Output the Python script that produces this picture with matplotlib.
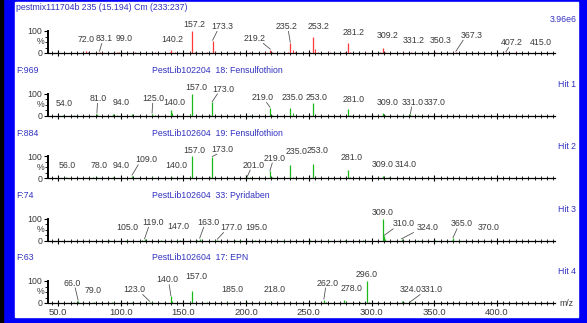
"""Library search result: sample spectrum and four library hits."""
import matplotlib
matplotlib.use("Agg")
import matplotlib.pyplot as plt
from matplotlib.patches import Rectangle

plt.rcParams["font.family"] = ["Liberation Sans", "DejaVu Sans"]

# ---- data -------------------------------------------------------------
SAMPLE_TITLE = "pestmix111704b 235 (15.194) Cm (233:237)"
SAMPLE_SCALE = "3.96e6"

HIT_FIT = ["F:969", "F:884", "F:74", "F:63"]
HIT_NAME = ["PestLib102204  18: Fensulfothion", "PestLib102604  19: Fensulfothion",
            "PestLib102604  33: Pyridaben", "PestLib102604  17: EPN"]
HIT_TAG = ["Hit 1", "Hit 2", "Hit 3", "Hit 4"]

# sample spectrum (labelled peaks, % of base peak)
S_MZ = [72.0, 83.1, 99.0, 140.2, 157.2, 173.3, 219.2, 235.2, 253.2, 281.2, 309.2, 331.2, 350.3, 367.3, 407.2, 415.0]
S_INT = [10, 5, 5, 12, 100, 55, 15, 45, 75, 45, 25, 5, 3, 5, 3, 3]
S_MINOR_MZ = [74, 77, 85, 91, 97, 105, 111, 121, 127, 139, 143, 155, 159, 169, 175, 183, 191, 197, 203, 207,
              215, 221, 233, 237, 239, 251, 255, 257, 265, 267, 279, 283, 293, 295, 307, 311, 325, 339,
              351, 365, 379, 393, 405]
S_MINOR_INT = [3, 2, 3, 2, 3, 2, 3, 2, 3, 4, 3, 4, 6, 3, 5, 2, 3, 2, 3, 2,
               3, 4, 5, 15, 4, 6, 20, 5, 2, 3, 4, 5, 2, 3, 4, 6, 3, 2,
               2, 3, 2, 2, 2]

# hit 1
H1_MZ = [54.0, 81.0, 94.0, 125.0, 140.0, 157.0, 173.0, 219.0, 235.0, 253.0, 281.0, 309.0, 331.0, 337.0]
H1_INT = [3, 8, 8, 8, 25, 100, 60, 35, 35, 55, 30, 10, 5, 3]
H1_MINOR_MZ = [63, 97, 109, 127, 141, 155, 171, 203, 221, 237, 283, 311, 325]
H1_MINOR_INT = [2, 4, 5, 3, 10, 6, 4, 3, 4, 12, 4, 3, 3]

# hit 2
H2_MZ = [56.0, 78.0, 94.0, 109.0, 140.0, 157.0, 173.0, 201.0, 219.0, 235.0, 253.0, 281.0, 309.0, 314.0]
H2_INT = [3, 3, 3, 10, 5, 100, 95, 5, 30, 60, 65, 35, 8, 3]
H2_MINOR_MZ = [63, 81, 97, 125, 141, 155, 171, 203, 221, 237, 255, 283, 311]
H2_MINOR_INT = [2, 3, 2, 3, 3, 5, 4, 3, 3, 5, 6, 4, 2]

# hit 3
H3_MZ = [105.0, 119.0, 147.0, 163.0, 177.0, 195.0, 309.0, 310.0, 324.0, 365.0, 370.0]
H3_INT = [3, 5, 3, 8, 3, 3, 100, 20, 5, 10, 3]
H3_MINOR_MZ = [91, 117, 132, 145, 161, 175, 191, 207, 230, 251, 265, 279, 293, 311, 337, 351, 364]
H3_MINOR_INT = [2, 2, 2, 3, 2, 2, 2, 2, 2, 2, 2, 2, 3, 6, 2, 3, 3]

# hit 4
H4_MZ = [66.0, 79.0, 123.0, 140.0, 157.0, 185.0, 218.0, 262.0, 278.0, 296.0, 324.0, 331.0]
H4_INT = [10, 5, 5, 30, 55, 5, 3, 15, 15, 100, 8, 3]
H4_MINOR_MZ = [63, 77, 93, 109, 125, 141, 155, 169, 201, 233, 248, 264, 280, 291, 298, 311, 326]
H4_MINOR_INT = [3, 2, 4, 3, 3, 8, 6, 3, 3, 2, 2, 3, 5, 3, 6, 2, 4]

# ---- label layout (text centre in m/z, text bottom in %, leader line) ----
S_LAB_X = [72, 87, 103, 141, 159, 181, 207, 232, 258, 286, 313, 334, 355, 380, 412, 435]
S_LAB_Y = [40, 45, 45, 40, 108, 100, 45, 100, 100, 72, 60, 38, 38, 60, 27, 27]
S_LEAD = [0, 1, 0, 0, 0, 1, 1, 1, 0, 0, 0, 0, 0, 1, 1, 0]

H1_LAB_X = [55, 82, 100, 126, 143, 160, 182, 213, 237, 256, 286, 313, 333, 350]
H1_LAB_Y = [35, 57, 38, 57, 40, 108, 100, 61, 61, 61, 50, 40, 40, 40]
H1_LEAD = [0, 1, 0, 1, 0, 0, 1, 1, 0, 0, 0, 0, 1, 0]

H2_LAB_X = [57, 83, 100, 120, 144, 159, 181, 206, 223, 240, 257, 284, 309, 327]
H2_LAB_Y = [38, 38, 38, 62, 38, 106, 110, 38, 70, 100, 105, 72, 40, 40]
H2_LEAD = [0, 0, 0, 1, 0, 0, 1, 1, 1, 0, 0, 0, 0, 0]

H3_LAB_X = [105, 126, 146, 170, 188, 208, 309, 326, 345, 372, 393]
H3_LAB_Y = [38, 62, 42, 62, 38, 38, 108, 55, 38, 55, 40]
H3_LEAD = [0, 1, 0, 1, 1, 0, 0, 1, 1, 1, 0]

H4_LAB_X = [61, 78, 111, 137, 160, 189, 223, 265, 284, 296, 331, 348]
H4_LAB_Y = [70, 38, 40, 85, 100, 40, 40, 70, 45, 108, 40, 40]
H4_LEAD = [1, 0, 1, 1, 0, 0, 0, 1, 0, 0, 0, 1]

X_TICKS = [50.0, 100.0, 150.0, 200.0, 250.0, 300.0, 350.0, 400.0]

# ---- layout (pixels) ----------------------------------------------------
W, H = 587, 323
BASELINES = [53, 115.5, 178, 240.5, 303]
AX_LEFT, AX_RIGHT, AMP = 48, 555, 22
XLIM = (42.0, 446.3)

BLUE_TXT = "#3232c0"
LABEL_C = "#3a3a3a"
RED = "#ff3838"
GREEN = "#18b818"


def fx(px):
    return px / W


def fy(py):
    return 1 - py / H


def draw_panel(ax, mz, inten, minor_mz, minor_int, lab_x, lab_y, lead, color, last):
    ax.set_xlim(*XLIM)
    ax.set_ylim(0, 100)
    ax.patch.set_visible(False)
    ax.vlines(minor_mz, 0, minor_int, color=color, lw=0.8)
    ax.vlines(mz, 0, inten, color=color, lw=0.9)
    for m, h, tx, ty, ld in zip(mz, inten, lab_x, lab_y, lead):
        ax.text(tx, ty, f"{m:.1f}", ha="center", va="bottom", fontsize=6.3, color=LABEL_C)
        if ld:
            ax.plot([m, m + 0.45 * (tx - m)], [h + 3, ty - 2], color="#555555", lw=0.6, clip_on=False)
    for s in ("top", "right"):
        ax.spines[s].set_visible(False)
    ax.spines["left"].set_bounds(0, 100)
    ax.spines["left"].set_linewidth(1.4)
    ax.spines["bottom"].set_linewidth(0.9)
    ax.set_yticks([0, 100])
    ax.set_yticklabels(["0", "100"])
    ax.set_yticks([25, 50, 75], minor=True)
    ax.tick_params(axis="y", which="major", length=3, width=0.8, pad=1, labelsize=6.3, labelcolor=LABEL_C)
    ax.tick_params(axis="y", which="minor", length=2, width=0.6)
    ax.text(XLIM[0] - 2.5, 50, "%", ha="right", va="center", fontsize=6.3, color=LABEL_C)
    ax.set_xticks(X_TICKS)
    ax.set_xticks([x for x in range(45, 446, 5)], minor=True)
    ax.tick_params(axis="x", which="major", direction="inout", length=5, width=0.8, pad=1,
                   labelsize=6.8, labelcolor=LABEL_C)
    ax.tick_params(axis="x", which="minor", direction="inout", length=3, width=0.6)
    if last:
        ax.set_xticklabels([f"{t:.1f}" for t in X_TICKS])
    else:
        ax.set_xticklabels([])


fig = plt.figure(figsize=(W / 100, H / 100), dpi=100)
fig.patch.set_facecolor("#0000f8")
fig.patches.append(Rectangle((0, 0), fx(3), 1, transform=fig.transFigure, color="black", zorder=-10))
fig.patches.append(Rectangle((fx(15), fy(317)), fx(563), (317 - 2) / H, transform=fig.transFigure,
                             color="white", zorder=-10))

panels = [
    (S_MZ, S_INT, S_MINOR_MZ, S_MINOR_INT, S_LAB_X, S_LAB_Y, S_LEAD, RED),
    (H1_MZ, H1_INT, H1_MINOR_MZ, H1_MINOR_INT, H1_LAB_X, H1_LAB_Y, H1_LEAD, GREEN),
    (H2_MZ, H2_INT, H2_MINOR_MZ, H2_MINOR_INT, H2_LAB_X, H2_LAB_Y, H2_LEAD, GREEN),
    (H3_MZ, H3_INT, H3_MINOR_MZ, H3_MINOR_INT, H3_LAB_X, H3_LAB_Y, H3_LEAD, GREEN),
    (H4_MZ, H4_INT, H4_MINOR_MZ, H4_MINOR_INT, H4_LAB_X, H4_LAB_Y, H4_LEAD, GREEN),
]

for i, (b, p) in enumerate(zip(BASELINES, panels)):
    ax = fig.add_axes([fx(AX_LEFT), fy(b), fx(AX_RIGHT - AX_LEFT), AMP / H])
    draw_panel(ax, *p, last=(i == len(panels) - 1))
    if i == 0:
        fig.text(fx(16), fy(b - 46), SAMPLE_TITLE, ha="left", va="center", fontsize=6.3, color=BLUE_TXT)
        fig.text(fx(577), fy(b - 33), SAMPLE_SCALE, ha="right", va="center", fontsize=6.3, color=BLUE_TXT)
    else:
        fig.text(fx(16), fy(b - 45), HIT_FIT[i - 1], ha="left", va="center", fontsize=6.3, color=BLUE_TXT)
        fig.text(fx(152), fy(b - 45), HIT_NAME[i - 1], ha="left", va="center", fontsize=6.3, color=BLUE_TXT)
        fig.text(fx(576), fy(b - 31), HIT_TAG[i - 1], ha="right", va="center", fontsize=6.3, color=BLUE_TXT)

fig.text(fx(559), fy(303), "m/z", ha="left", va="center", fontsize=6.3, color=LABEL_C)

fig.savefig("out.png", dpi=100, facecolor=fig.get_facecolor())
